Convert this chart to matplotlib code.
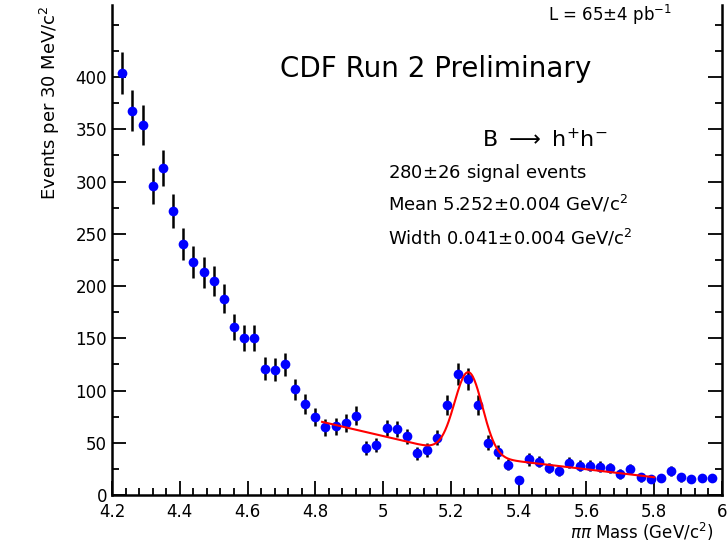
import numpy as np
import matplotlib
matplotlib.use("Agg")
import matplotlib.pyplot as plt
from math import erf

plt.rcParams['font.family'] = ['DejaVu Sans']

x_start = 4.23
bin_width = 0.03
counts = [404, 368, 354, 296, 313, 272, 240, 223, 213, 205, 188, 161, 150, 150, 121, 120, 125, 101, 87,
          75, 65, 66, 69, 76, 45, 48, 64, 63, 56, 40, 43, 55, 86, 116, 111, 86, 50, 41, 29, 14,
          34, 32, 26, 23, 31, 28, 28, 27, 26, 20, 25, 17, 15, 16, 23, 17, 15, 16, 16]
mass = x_start + bin_width * np.arange(len(counts))
errors = np.sqrt(np.array(counts, dtype=float))

# fit model parameters
fit_range = (4.82, 5.80)
mean, sigma, amp = 5.252, 0.041, 80.0
bkg_left = (4.82, 70.0, 5.15, 45.0)
bkg_right = (5.38, 33.0, 5.80, 17.0)

def lin(p, x):
    x0, y0, x1, y1 = p
    return y0 + (y1 - y0) * (x - x0) / (x1 - x0)

xf = np.linspace(*fit_range, 400)
step = np.array([0.5 * (1 - erf((v - mean) / 0.04)) for v in xf])
bkg = lin(bkg_right, xf) + (lin(bkg_left, xf) - lin(bkg_right, xf)) * step
yf = bkg + amp * np.exp(-0.5 * ((xf - mean) / sigma) ** 2)

fig = plt.figure(figsize=(7.27, 5.42), dpi=100)
ax = fig.add_axes([112/727, 1 - 495/542, 610/727, 490/542])
ax.errorbar(mass, counts, yerr=errors, fmt='none', ecolor='black', elinewidth=1.8, zorder=2)
ax.plot(mass, counts, 'o', color='#0000ff', markersize=7, markeredgewidth=0, zorder=3)
ax.plot(xf, yf, color='red', lw=1.5, zorder=4)

ax.set_xlim(4.2, 6.0)
ax.set_ylim(0, 469)
ax.set_xticks([4.2, 4.4, 4.6, 4.8, 5.0, 5.2, 5.4, 5.6, 5.8, 6.0])
ax.set_xticklabels(['4.2', '4.4', '4.6', '4.8', '5', '5.2', '5.4', '5.6', '5.8', '6'])
ax.set_xticks(np.arange(4.2, 6.001, 0.04), minor=True)
ax.set_yticks(np.arange(0, 401, 50))
ax.set_yticks(np.arange(0, 451, 25), minor=True)
ax.spines['top'].set_visible(False)
ax.tick_params(which='both', direction='in', right=True, labelsize=12, width=1.3)
ax.tick_params(axis='x', pad=6)
ax.tick_params(which='major', length=10)
ax.tick_params(which='minor', length=5)
for s in ['left', 'bottom', 'right']:
    ax.spines[s].set_linewidth(1.8)
ax.set_xlabel(r'$\pi\pi$ Mass (GeV/c$^2$)', fontsize=12)
ax.xaxis.set_label_coords(0.985, -0.052)
ax.xaxis.label.set_ha('right')
ax.xaxis.label.set_va('top')
ax.set_ylabel('Events per 30 MeV/c$^2$', fontsize=13, loc='top', labelpad=10)

tf = ax.transAxes
ax.text(0.53, 0.853, 'CDF Run 2 Preliminary', transform=tf, fontsize=20, ha='center')
ax.text(0.715, 1.005, r'L = 65$\pm$4 pb$^{-1}$', transform=tf, fontsize=12, ha='left', va='top')
ax.text(0.607, 0.71, r'B $\longrightarrow$ h$^{+}$h$^{-}$', transform=tf, fontsize=16)
ax.text(0.452, 0.647, r'280$\pm$26 signal events', transform=tf, fontsize=13)
ax.text(0.452, 0.58, r'Mean 5.252$\pm$0.004 GeV/c$^2$', transform=tf, fontsize=13)
ax.text(0.452, 0.512, r'Width 0.041$\pm$0.004 GeV/c$^2$', transform=tf, fontsize=13)

fig.savefig('out.png', dpi=100)
